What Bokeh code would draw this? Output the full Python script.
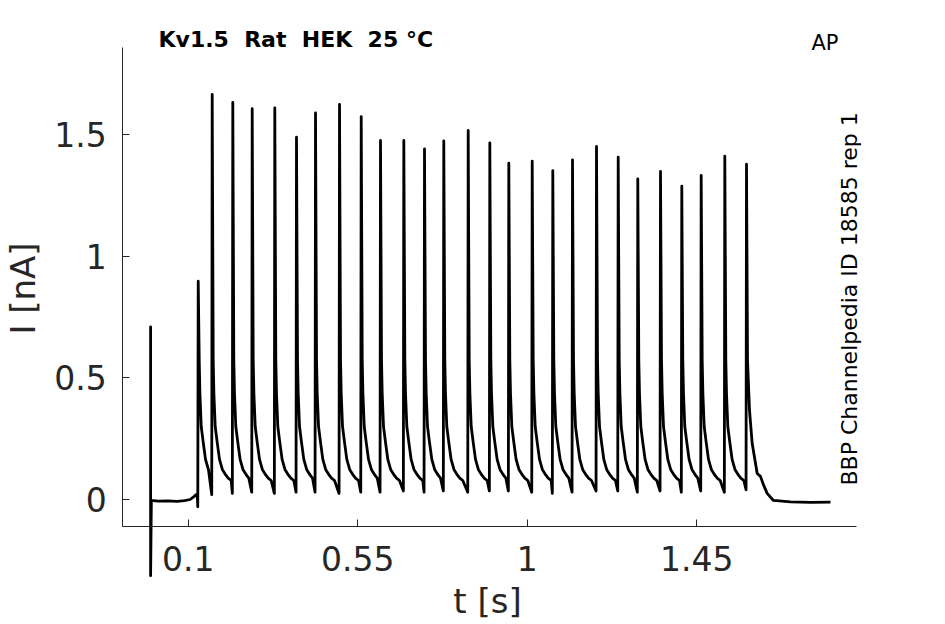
import math
from bokeh.plotting import figure
from bokeh.models import Range1d, LinearAxis, FixedTicker, Label
from bokeh.embed import file_html
from bokeh.resources import INLINE

# ---------------- data ----------------
x_ticks = [0.1, 0.55, 1.0, 1.45]
x_tick_labels = ["0.1", "0.55", "1", "1.45"]
y_ticks = [0.0, 0.5, 1.0, 1.5]
y_tick_labels = ["0", "0.5", "1", "1.5"]

# capacitive transient at stimulus onset (t in s, I in nA)
onset_t = [0.0, 0.0, 0.0, 0.002]
onset_i = [0.0, 0.709, -0.313, -0.004]
# baseline before the AP train
base_t = [0.02, 0.045, 0.07, 0.09, 0.105, 0.115, 0.121, 0.1238]
base_i = [-0.007, -0.006, -0.008, -0.005, 0.0, 0.012, 0.02, 0.022]
# spike onsets, peak currents and the current just before each spike
spike_t = [0.1264, 0.1635, 0.2182, 0.2697, 0.3297, 0.3873, 0.4378, 0.5015,
           0.5591, 0.6103, 0.6722, 0.7271, 0.7783, 0.8431, 0.9005, 0.9509,
           1.0130, 1.0677, 1.1200, 1.1837, 1.2413, 1.2933, 1.3536, 1.4101,
           1.4616, 1.5243, 1.5819]
spike_peak = [0.897, 1.665, 1.632, 1.606, 1.610, 1.489, 1.589, 1.624,
              1.574, 1.476, 1.476, 1.441, 1.474, 1.517, 1.466, 1.382,
              1.391, 1.352, 1.396, 1.451, 1.407, 1.318, 1.349, 1.288,
              1.332, 1.411, 1.378]
spike_dip = [-0.030, 0.020, 0.025, 0.030, 0.025, 0.030, 0.030, 0.025,
             0.030, 0.030, 0.035, 0.030, 0.035, 0.030, 0.035, 0.035,
             0.030, 0.025, 0.030, 0.035, 0.035, 0.030, 0.035, 0.030,
             0.035, 0.030, 0.040]
# decay after a spike (delay after onset in s, I in nA)
decay_dt = [0.0027, 0.0045, 0.0080, 0.0133, 0.0194, 0.0273, 0.0364, 0.0425, 0.0504]
decay_i = [0.571, 0.436, 0.300, 0.235, 0.165, 0.122, 0.100, 0.088, 0.078]
# relaxation after the last spike
tail_t = [1.5846, 1.5899, 1.5970, 1.6103, 1.6190, 1.6270, 1.6368, 1.6535,
          1.6987, 1.7518, 1.8049]
tail_i = [0.571, 0.366, 0.230, 0.107, 0.095, 0.060, 0.025, -0.004,
          -0.010, -0.012, -0.011]

title_text = "Kv1.5 \u00a0Rat \u00a0HEK \u00a025 °C"
protocol_text = "AP"
id_text = "BBP Channelpedia ID 18585 rep 1"
x_label = "t [s]"
y_label = "I [nA]"

# ---------------- assemble the trace ----------------
t_all = list(onset_t) + list(base_t)
i_all = list(onset_i) + list(base_i)
n = len(spike_t)
for k in range(n):
    t_all += [spike_t[k] - 0.0012, spike_t[k]]
    i_all += [spike_dip[k], spike_peak[k]]
    if k < n - 1:
        nxt = spike_t[k + 1]
        for dt, v in zip(decay_dt, decay_i):
            if spike_t[k] + dt < nxt - 0.004:
                t_all.append(spike_t[k] + dt)
                i_all.append(v)
    else:
        t_all += tail_t
        i_all += tail_i

# ---------------- layout geometry ----------------
W, H = 945, 624
X0_PX, X_SCALE = 150.1, 376.7     # picture px of t=0, px per second
Y0_PX, Y_SCALE = 499.0, 243.3     # picture px of I=0, px per nA


def xd(px):
    return (px - X0_PX) / X_SCALE


def yd(py):
    return (Y0_PX - py) / Y_SCALE


x_range = Range1d(xd(0), xd(W))
y_range = Range1d(yd(H), yd(0))

p = figure(width=W, height=H, output_backend="svg", toolbar_location=None,
           x_range=x_range, y_range=y_range, x_axis_location=None,
           y_axis_location=None, min_border=0, title=None)
p.outline_line_color = None
p.background_fill_color = "white"
p.border_fill_color = "white"
for g in p.grid:
    g.visible = False

AX = "#262626"
FONT = "DejaVu Sans"

xaxis = LinearAxis(fixed_location=yd(526), bounds=(xd(122.3), xd(856)),
                   ticker=FixedTicker(ticks=x_ticks),
                   major_label_overrides=dict(zip(x_ticks, x_tick_labels)))
yaxis = LinearAxis(fixed_location=xd(122.3), bounds=(yd(526), yd(47)),
                   ticker=FixedTicker(ticks=y_ticks),
                   major_label_overrides=dict(zip(y_ticks, y_tick_labels)))
for ax in (xaxis, yaxis):
    ax.axis_line_color = AX
    ax.axis_line_width = 1
    ax.major_tick_line_color = AX
    ax.major_tick_in = 7
    ax.major_tick_out = 0
    ax.minor_tick_in = 0
    ax.minor_tick_out = 0
    ax.minor_tick_line_color = None
    ax.major_label_text_font = FONT
    ax.major_label_text_font_size = "33px"
    ax.major_label_text_color = AX
xaxis.major_label_standoff = 19
yaxis.major_label_standoff = 16
p.add_layout(xaxis, "below")
p.add_layout(yaxis, "left")

p.line(t_all, i_all, line_color="black", line_width=2.8, line_join="round")

labels = [
    Label(x=xd(487), y=yd(600.5), text=x_label, text_font=FONT,
          text_font_size="34px", text_color=AX, text_align="center",
          text_baseline="alphabetic"),
    Label(x=xd(22), y=yd(288), text=y_label, text_font=FONT,
          text_font_size="34px", text_color=AX, text_align="center",
          text_baseline="middle", angle=math.pi / 2),
    Label(x=xd(158), y=yd(38.7), text=title_text, text_font=FONT,
          text_font_style="bold", text_font_size="22px", text_color="black",
          text_align="left", text_baseline="alphabetic"),
    Label(x=xd(811), y=yd(42), text=protocol_text, text_font=FONT,
          text_font_size="21px", text_color="black", text_align="left",
          text_baseline="alphabetic"),
    Label(x=xd(848.7), y=yd(485), text=id_text, text_font=FONT,
          text_font_size="22px", text_color="black", text_align="left",
          text_baseline="alphabetic", angle=math.pi / 2),
]
for lb in labels:
    p.add_layout(lb)

open("out.html", "w").write(file_html(p, INLINE))
